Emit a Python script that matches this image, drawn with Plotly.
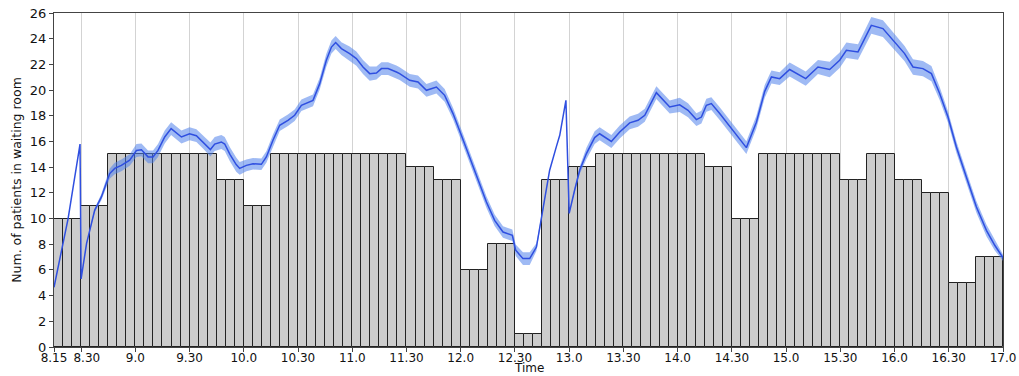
import numpy as np
import plotly.graph_objects as go

# ---- bar data: patients in waiting room per 5-minute slot (8:15 -> 17:00) ----
bar_values = [
    10, 10, 10,  11, 11, 11,  15, 15, 15,  15, 15, 15,  15, 15, 15,
    15, 15, 15,  13, 13, 13,  11, 11, 11,  15, 15, 15,  15, 15, 15,
    15, 15, 15,  15, 15, 15,  15, 15, 15,  14, 14, 14,  13, 13, 13,
    6, 6, 6,     8, 8, 8,     1, 1, 1,     13, 13, 13,  14, 14, 14,
    15, 15, 15,  15, 15, 15,  15, 15, 15,  15, 15, 15,  14, 14, 14,
    10, 10, 10,  15, 15, 15,  15, 15, 15,  15, 15, 15,  13, 13, 13,
    15, 15, 15,  13, 13, 13,  12, 12, 12,  5, 5, 5,     7, 7, 7,
]

# ---- simulated mean curve (time in decimal hours), value, and CI half-width ----
line_t = [8.25, 8.38, 8.49, 8.50, 8.55, 8.625, 8.687, 8.764, 8.81, 8.871, 8.948,
          9.01, 9.056, 9.117, 9.163, 9.209, 9.271, 9.33, 9.425, 9.50, 9.563, 9.624,
          9.692, 9.732, 9.793, 9.824, 9.872, 9.93, 9.962, 10.024, 10.085, 10.162,
          10.208, 10.269, 10.331, 10.407, 10.469, 10.531, 10.608, 10.638, 10.70,
          10.761, 10.808, 10.847, 10.90, 10.976, 11.038, 11.099, 11.161, 11.223,
          11.269, 11.33, 11.407, 11.437, 11.53, 11.606, 11.684, 11.776, 11.852,
          11.929, 12.006, 12.083, 12.159, 12.237, 12.313, 12.39, 12.476, 12.507,
          12.574, 12.636, 12.698, 12.759, 12.82, 12.882, 12.913, 12.97, 13.0,
          13.05, 13.097, 13.159, 13.235, 13.281, 13.389, 13.466, 13.558, 13.635,
          13.697, 13.804, 13.927, 14.019, 14.096, 14.173, 14.219, 14.265, 14.311,
          14.388, 14.511, 14.634, 14.726, 14.803, 14.865, 14.941, 15.033, 15.095,
          15.181, 15.294, 15.402, 15.494, 15.556, 15.663, 15.786, 15.893, 15.986,
          16.093, 16.17, 16.262, 16.34, 16.416, 16.493, 16.57, 16.662, 16.755,
          16.847, 16.924, 17.0]
line_v = [4.65, 10.0, 15.8, 5.3, 8.05, 10.64, 11.68, 13.5, 13.9, 14.14, 14.55,
          15.3, 15.35, 14.8, 14.8, 15.3, 16.35, 17.0, 16.35, 16.6, 16.45, 15.96,
          15.37, 15.8, 15.96, 15.8, 15.0, 14.2, 13.9, 14.14, 14.27, 14.22,
          14.79, 16.09, 17.26, 17.65, 18.04, 18.82, 19.07, 19.2, 20.5,
          22.32, 23.35, 23.7, 23.23, 22.84, 22.45, 21.8, 21.28, 21.33,
          21.67, 21.67, 21.41, 21.28, 20.76, 20.63, 19.98, 20.24, 19.59,
          18.17, 16.48, 14.79, 12.98, 11.29, 9.86, 8.95, 8.7, 7.53,
          6.88, 6.88, 7.78, 10.9, 13.76, 15.6, 16.48, 19.2, 10.4,
          12.2, 13.76, 15.06, 16.3, 16.6, 16.0, 16.74, 17.45, 17.65,
          18.04, 19.8, 18.68, 18.85, 18.43, 17.7, 17.9, 18.82, 18.95,
          18.17, 16.87, 15.52, 17.5, 19.9, 21.02, 20.89, 21.6, 21.28,
          20.89, 21.8, 21.6, 22.32, 23.1, 22.97, 25.04, 24.79, 23.9,
          22.84, 21.8, 21.67, 21.28, 19.73, 17.9, 15.57, 13.23, 10.9,
          9.08, 7.92, 6.95]
line_ci = [0, 0, 0, 0, 0.05, 0.15, 0.25, 0.4, 0.45, 0.45, 0.45,
           0.5, 0.5, 0.5, 0.5, 0.5, 0.5, 0.5, 0.5, 0.5, 0.5, 0.5,
           0.55, 0.55, 0.55, 0.55, 0.55, 0.55, 0.5, 0.45, 0.45, 0.45,
           0.45, 0.45, 0.45, 0.45, 0.45, 0.45, 0.45, 0.45, 0.45,
           0.5, 0.5, 0.5, 0.5, 0.55, 0.55, 0.55, 0.55, 0.5,
           0.5, 0.5, 0.5, 0.5, 0.5, 0.5, 0.5, 0.5, 0.5,
           0.45, 0.45, 0.45, 0.45, 0.45, 0.45, 0.45, 0.45, 0.45,
           0.5, 0.5, 0.3, 0.1, 0, 0, 0, 0, 0,
           0.15, 0.3, 0.45, 0.5, 0.5, 0.5, 0.5, 0.5, 0.5,
           0.5, 0.5, 0.5, 0.55, 0.55, 0.5, 0.5, 0.5, 0.5,
           0.5, 0.5, 0.5, 0.5, 0.5, 0.5, 0.5, 0.55, 0.55,
           0.55, 0.55, 0.6, 0.6, 0.6, 0.6, 0.65, 0.65, 0.65,
           0.6, 0.6, 0.6, 0.6, 0.5, 0.45, 0.45, 0.45, 0.45,
           0.45, 0.4, 0.25]

tick_vals = [8.25, 8.5, 9, 9.5, 10, 10.5, 11, 11.5, 12, 12.5, 13, 13.5, 14,
             14.5, 15, 15.5, 16, 16.5, 17]
tick_text = ["8.15", "\u00a0\u00a0\u00a08.30", "9.0", "9.30", "10.0", "10.30", "11.0", "11.30",
             "12.0", "12.30", "13.0", "13.30", "14.0", "14.30", "15.0", "15.30",
             "16.0", "16.30", "17.0"]

slot = 5 / 60
bar_x = 8.25 + slot * (np.arange(len(bar_values)) + 0.5)
lt = np.array(line_t)
lv = np.array(line_v)
lc = np.array(line_ci)

FONT = "DejaVu Sans"
fig = go.Figure()
fig.add_trace(go.Bar(
    x=bar_x, y=bar_values, width=slot,
    marker=dict(color="#cccccc", line=dict(color="#222222", width=1)),
    showlegend=False, hoverinfo="skip",
))
fig.add_trace(go.Scatter(x=lt, y=lv + lc, mode="lines", line=dict(width=0),
                         showlegend=False, hoverinfo="skip"))
fig.add_trace(go.Scatter(x=lt, y=lv - lc, mode="lines", line=dict(width=0),
                         fill="tonexty", fillcolor="rgba(80,130,235,0.55)",
                         showlegend=False, hoverinfo="skip"))
fig.add_trace(go.Scatter(x=lt, y=lv, mode="lines",
                         line=dict(color="#2f4fe0", width=1.5),
                         showlegend=False))

fig.update_layout(
    width=1019, height=376,
    margin=dict(l=54, r=16, t=13, b=29),
    paper_bgcolor="white", plot_bgcolor="white",
    bargap=0,
    font=dict(family=FONT, size=13, color="#111111"),
    annotations=[dict(text="Time", x=0.5, xref="paper", y=-0.0868, yref="paper",
                      xanchor="center", yanchor="bottom", showarrow=False,
                      borderpad=0, font=dict(size=12, color="#111111"))],
)
fig.update_xaxes(
    range=[8.25, 17.0], tickvals=tick_vals, ticktext=tick_text,
    tickangle=0, automargin=False,
    showgrid=True, gridcolor="#d3d3d3", gridwidth=1,
    showline=True, linecolor="#444444", linewidth=1, mirror=True,
    ticks="", ticklen=0,
    minor=dict(tickvals=tick_vals, ticks="outside", ticklen=4,
               tickcolor="#444444", showgrid=False),
    tickfont=dict(size=12), zeroline=False,
)
fig.update_yaxes(
    range=[0, 26], tickvals=list(range(0, 27, 2)), automargin=False,
    showgrid=False, zeroline=False,
    showline=True, linecolor="#444444", linewidth=1, mirror=True,
    ticks="outside", ticklen=4, tickcolor="#444444",
    tickfont=dict(size=13),
    title=dict(text="Num. of patients in waiting room", font=dict(size=12.5), standoff=5),
)
fig.write_html(
    "out.html",
    config={"displayModeBar": False},
    post_script="document.body.style.margin='0';document.body.style.padding='0';",
)
